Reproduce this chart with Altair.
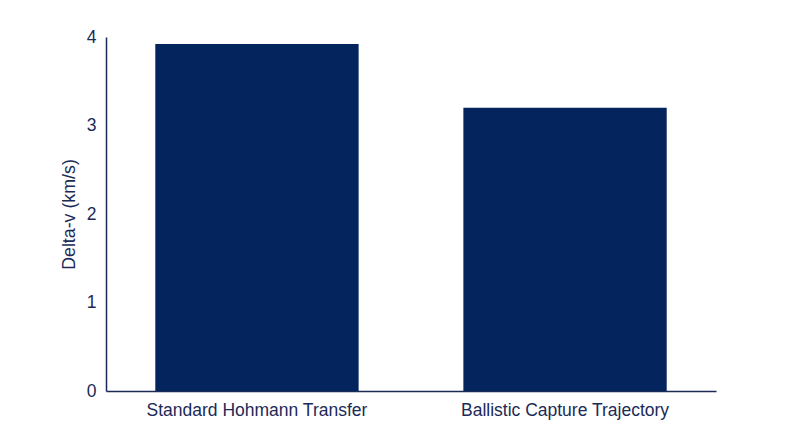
import altair as alt
import pandas as pd

categories = ["Standard Hohmann Transfer", "Ballistic Capture Trajectory"]
delta_v = [3.92, 3.2]

df = pd.DataFrame({"Trajectory": categories, "Delta-v": delta_v})

NAVY = "#03245c"
TEXT = "#1b2a57"

chart = alt.Chart(df).mark_bar(color=NAVY).encode(
    x=alt.X("Trajectory:N", sort=categories, title=None,
            scale=alt.Scale(paddingInner=0.34, paddingOuter=0.16),
            axis=alt.Axis(labelAngle=0, ticks=False, domainColor=TEXT, domainWidth=1.5,
                          labelColor=TEXT, labelFontSize=17.5, labelFont="Liberation Sans",
                          labelPadding=10, labelLimit=500)),
    y=alt.Y("Delta-v:Q", title="Delta-v (km/s)",
            scale=alt.Scale(domain=[0, 4]),
            axis=alt.Axis(values=[0, 1, 2, 3, 4], ticks=False, grid=False, domainColor=TEXT,
                          domainWidth=1.5, labelColor=TEXT, labelFontSize=17.5,
                          labelFont="Liberation Sans", labelPadding=10,
                          titleColor=TEXT, titleFontSize=17.8, titleFontWeight="normal",
                          titleFont="Liberation Sans", titlePadding=8)),
).properties(
    width=610, height=354,
    autosize=alt.AutoSizeParams(type="none"),
    padding={"left": 98, "top": 29, "right": 76, "bottom": 48},
    background="white",
).configure_view(stroke=None, strokeWidth=0)

chart.save("out.html", embed_options={"renderer": "svg", "actions": False})
